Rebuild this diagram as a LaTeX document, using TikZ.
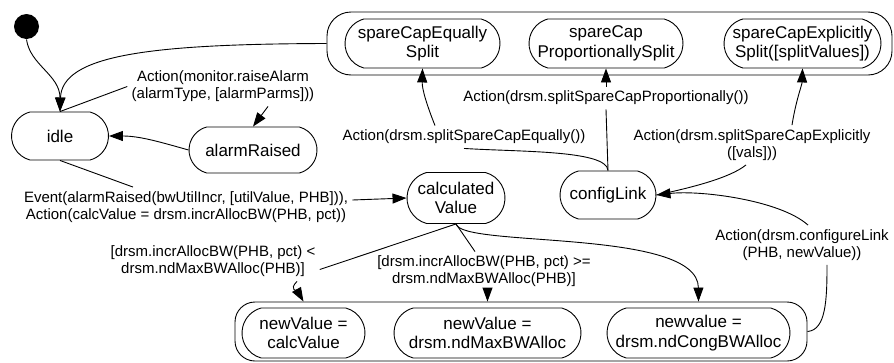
\documentclass[tikz,border=0pt]{standalone}
\usepackage{fontspec}
\setmainfont{Liberation Sans}
\usetikzlibrary{shapes.misc}
\usetikzlibrary{arrows.meta}
\newcommand{\stateFont}{\fontsize{17}{19.5}\selectfont}
\newcommand{\labelFont}{\fontsize{15}{17}\selectfont}
\newcommand{\heightstate}{48pt}
\tikzset{
    state/.style={draw, rounded rectangle, rounded rectangle arc length=150, align=center, font=\stateFont, inner sep=2pt, minimum height=\heightstate},
    group/.style={draw, rectangle, rounded corners=24pt, inner sep=0pt},
    initial/.style={circle, fill, minimum size=25pt, inner sep=0pt},
    trlabel/.style={align=center, font=\labelFont, inner sep=4pt},
    trans/.style={-{Triangle[length=14pt, width=10pt]}}
}

\begin{document}
\begin{tikzpicture}[x=1pt, y=-1pt, line width=0.9pt]
    \useasboundingbox (0,0) rectangle (894,362);
    % composite states
    \node[group, minimum width=565pt, minimum height=63pt] (topBox) at (609.5,43.5) {};
    \node[group, rounded corners=20pt, minimum width=572pt, minimum height=59pt] (bottomBox) at (521,331.5) {};
    % states
    \node[initial] (init) at (26.5,26.5) {};
    \node[state, minimum width=101pt] (idle) at (60,136) {idle};
    \node[state, minimum width=132pt, minimum height=46pt] (alarmRaised) at (253,150) {alarmRaised};
    \node[state, minimum width=102pt, minimum height=51pt] (calcd) at (456,198) {calculated\\Value};
    \node[state, minimum width=100pt] (configLink) at (608,195) {configLink};
    \node[state, minimum width=159pt, minimum height=49pt] (equally) at (422.5,43.5) {spareCapEqually\\Split};
    \node[state, minimum width=158pt, minimum height=49pt] (prop) at (606,43.5) {spareCap\\ProportionallySplit};
    \node[state, minimum width=161pt, minimum height=49pt] (expl) at (802.5,43.5) {spareCapExplicitly\\Split([splitValues])};
    \node[state, minimum width=127pt, minimum height=50pt] (calcVal) at (303.5,333) {newValue =\\calcValue};
    \node[state, minimum width=191pt, minimum height=50pt] (maxBW) at (487.5,333) {newValue =\\drsm.ndMaxBWAlloc};
    \node[state, minimum width=187pt, minimum height=50pt] (congBW) at (698.5,333) {newvalue =\\drsm.ndCongBWAlloc};
    % transition labels
    \node[trlabel] (labAlarm) at (223,86.5) {Action(monitor.raiseAlarm\\(alarmType, [alarmParms]))};
    \node[trlabel] (labEvent) at (186,207) {Event(alarmRaised(bwUtilIncr, [utilValue, PHB])),\\Action(calcValue = drsm.incrAllocBW(PHB, pct))};
    \node[trlabel] (labLess) at (213,261.5) {[drsm.incrAllocBW(PHB, pct) <\\drsm.ndMaxBWAlloc(PHB)]};
    \node[trlabel] (labGe) at (484,271.5) {[drsm.incrAllocBW(PHB, pct) >=\\drsm.ndMaxBWAlloc(PHB)]};
    \node[trlabel] (labCfg) at (802,245) {Action(drsm.configureLink\\(PHB, newValue))};
    \node[trlabel] (labEq) at (464,137) {Action(drsm.splitSpareCapEqually())};
    \node[trlabel] (labProp) at (606,98) {Action(drsm.splitSpareCapProportionally())};
    \node[trlabel] (labExp) at (752,145) {Action(drsm.splitSpareCapExplicitly\\([vals]))};
    % transitions
    \draw[trans] (init.south) .. controls (30,65) and (60,75) .. (idle.north);
    \draw[trans] (topBox.west) .. controls (150,44) and (62,55) .. (idle.north);
    \draw[trans] (alarmRaised.west) .. controls (160,142) and (140,136) .. (idle.east);
    \draw (idle.north) -- (labAlarm.west);
    \draw[trans] ([xshift=45pt]labAlarm.south) -- (alarmRaised.north);
    \draw (idle.south) -- ([xshift=-53pt]labEvent.north);
    \draw[trans] ([yshift=7pt]labEvent.east) -- (calcd.west);
    \draw (calcd.south) -- ([yshift=-8pt]labLess.east);
    \draw[trans] ([xshift=84pt]labLess.south) .. controls (288,290) and (298,292) .. (calcVal.north |- bottomBox.north);
    \draw (calcd.south) -- ([xshift=-9pt]labGe.north);
    \draw[trans] (maxBW.north |- labGe.south) -- (maxBW.north |- bottomBox.north);
    \draw[trans] (calcd.south) .. controls (462,248) and (698,228) .. (congBW.north |- bottomBox.north);
    \draw (bottomBox.east) .. controls (826,330) and (827,300) .. ([xshift=25pt]labCfg.south);
    \draw[trans] ([xshift=6pt]labCfg.north) .. controls (780,200) and (700,190) .. (configLink.east);
    \draw (configLink.north) .. controls (607,150) and (520,152) .. (labEq.south);
    \draw[trans] ([xshift=-29pt]labEq.north) .. controls (428,108) and (422,90) .. (equally.south);
    \draw (configLink.north) -- (labProp.south);
    \draw[trans] (labProp.north) -- (prop.south);
    \draw (configLink.east) .. controls (690,188) and (730,178) .. ([xshift=-6pt]labExp.south);
    \draw[trans] ([xshift=40pt]labExp.north) .. controls (796,100) and (802,85) .. (expl.south);
\end{tikzpicture}
\end{document}
